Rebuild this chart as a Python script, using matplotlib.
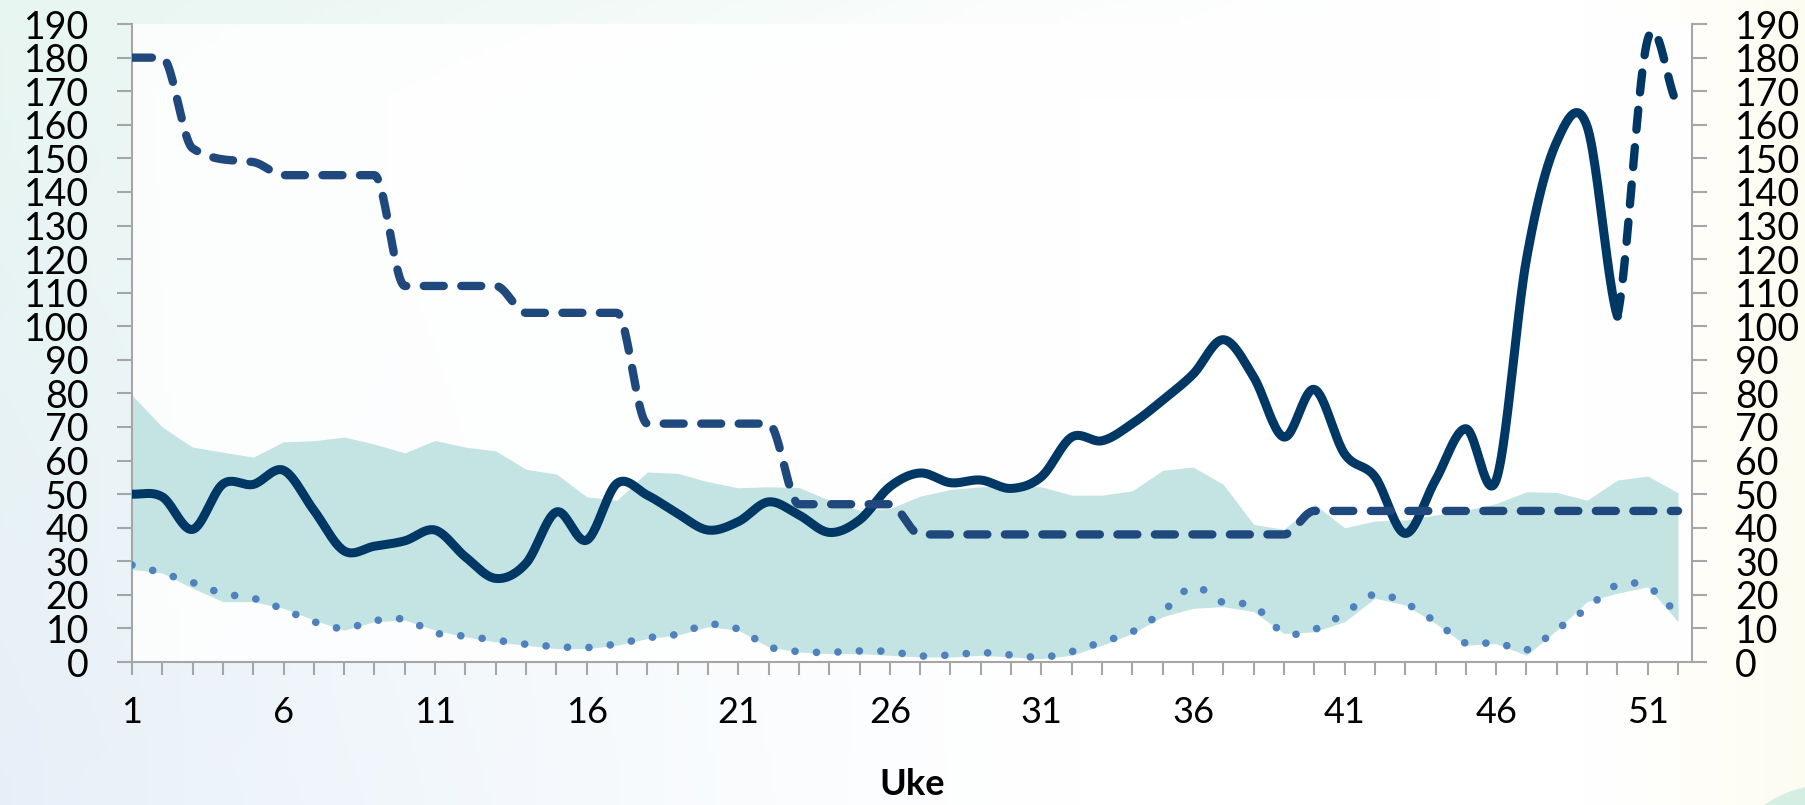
import numpy as np
import matplotlib
matplotlib.use("Agg")
import matplotlib.pyplot as plt
from matplotlib.patches import Ellipse

plt.rcParams['font.family'] = ['Lato', 'DejaVu Sans']

# Data (weeks 1..52)
weeks = list(range(1, 53))

band_max = [79.5, 70, 64, 62.5, 61, 65.6, 65.9, 67, 64.9, 62.3, 66, 64, 62.9,
            57.4, 56, 49.2, 48.2, 56.6, 56.2, 53.7, 51.9, 52.2, 52, 48.2, 45.2,
            45.7, 49.4, 51.4, 52.2, 52.5, 52.2, 49.7, 49.7, 51, 57.1, 58.1,
            52.9, 41, 39.5, 47, 40, 42, 42.3, 43.8, 45.2, 47.2, 50.7, 50.5,
            48.2, 54.2, 55.4, 50.4]
band_min = [27.6, 26.5, 22, 18, 18, 16, 12.5, 9.5, 12, 12.5, 9.5, 7.5, 6, 5,
            4, 4, 5, 7, 8, 10.5, 9.5, 4.5, 3, 2.5, 2.5, 2, 1.5, 1.5, 2, 1.5, 1,
            2, 5, 8.5, 13.5, 16, 16.5, 15, 8.5, 9, 12, 19, 17, 11.5, 5, 5.5, 2,
            9.5, 18, 20.5, 22.4, 12]
dotted = [28.9, 26.4, 23.7, 20.4, 19, 15.7, 12, 10, 12.3, 12.7, 8.7, 7.7, 6.5,
          5.3, 4.6, 4.3, 5.4, 7.2, 8.3, 11.2, 9.8, 4.6, 3.1, 2.9, 3.3, 3.1, 1.8,
          2.1, 2.8, 2.1, 1.4, 3.1, 6, 9, 15, 22.4, 17.7, 16.7, 8.7, 9.7, 14.5,
          20.2, 17.5, 12, 5.6, 5.8, 3.6, 9.7, 16, 23, 22.4, 15]
dashed = [180, 180, 153, 149.7, 148.9, 145, 145, 145, 145, 112, 112, 112, 112,
          104, 104, 104, 104, 71, 71, 71, 71, 71, 47, 47, 47, 47, 38, 38, 38,
          38, 38, 38, 38, 38, 38, 38, 38, 38, 38, 45, 45, 45, 45, 45, 45, 45,
          45, 45, 45, 45, 45, 45]
solid_weeks = list(range(1, 51))
solid = [50, 49.2, 39.5, 53, 52.9, 57.1, 45.2, 33.1, 34.5, 36.1, 39.3, 31.3,
         24.9, 29.4, 44.7, 36.3, 53.2, 49.7, 44.2, 39.3, 41.8, 47.7, 43.8, 38.6,
         42.3, 52.2, 56.3, 53.4, 54.2, 51.7, 55.2, 67, 65.9, 71, 78, 85.7, 96,
         84.9, 67, 81.2, 62, 55.2, 38.3, 54.2, 69.5, 54.2, 120, 155, 159.5, 103]
forecast_weeks = [50, 51, 52]
forecast = [103, 185.5, 166]

x_labels = [1, 6, 11, 16, 21, 26, 31, 36, 41, 46, 51]
y_ticks = list(range(0, 191, 10))


def smooth(x, y, n=24, monotone=False):
    # smoothed line through the points (cubic Bezier segments)
    x = np.asarray(x, float)
    y = np.asarray(y, float)
    k = len(x)
    d = np.diff(y) / np.diff(x)
    m = np.zeros(k)
    if monotone:
        for i in range(1, k - 1):
            if d[i - 1] * d[i] > 0:
                m[i] = 2 / (1 / d[i - 1] + 1 / d[i])
    else:
        m[1:-1] = (y[2:] - y[:-2]) / (x[2:] - x[:-2])
        m[0] = d[0] / 2
        m[-1] = d[-1] / 2
    t = np.linspace(0, 1, n)
    xs, ys = [], []
    for i in range(k - 1):
        h = x[i + 1] - x[i]
        p = [y[i], y[i] + m[i] * h / 3, y[i + 1] - m[i + 1] * h / 3, y[i + 1]]
        px = [x[i], x[i] + h / 3, x[i + 1] - h / 3, x[i + 1]]
        b = [(1 - t) ** 3, 3 * (1 - t) ** 2 * t, 3 * (1 - t) * t ** 2, t ** 3]
        sx = sum(bb * pp for bb, pp in zip(b, px))
        sy = sum(bb * pp for bb, pp in zip(b, p))
        if i > 0:
            sx, sy = sx[1:], sy[1:]
        xs.append(sx)
        ys.append(sy)
    return np.concatenate(xs), np.concatenate(ys)


fig = plt.figure(figsize=(18.05, 8.05), dpi=100)

# soft background gradient
bg = fig.add_axes([0, 0, 1, 1], zorder=-5)
H, W = 161, 361
yy, xx = np.mgrid[0:1:H * 1j, 0:1:W * 1j]
white = np.array([1.0, 1.0, 1.0])
mint = np.array([0.91, 0.965, 0.945])
blue = np.array([0.905, 0.94, 0.975])
cream = np.array([0.995, 0.99, 0.945])
left_col = mint[None, None, :] * (1 - yy[..., None]) + blue[None, None, :] * yy[..., None]
wl = np.clip(1 - xx / 0.6, 0, 1) ** 1.3
img = white * (1 - wl[..., None]) + left_col * wl[..., None]
wt = np.clip(1 - yy / 0.12, 0, 1) * np.clip(1 - xx / 0.8, 0, 1) * 0.6
img = img * (1 - wt[..., None]) + mint * wt[..., None]
wr = np.clip((xx - 0.88) / 0.12, 0, 1) ** 1.2
img = img * (1 - wr[..., None]) + cream * wr[..., None]
bg.imshow(img, aspect='auto', extent=[0, 1, 0, 1], origin='upper')
bg.add_patch(Ellipse((1.014, -0.118), 0.1274, 0.2857, color='#d4eee3', transform=bg.transAxes))
bg.set_xlim(0, 1)
bg.set_ylim(0, 1)
bg.axis('off')

ax = fig.add_axes([0.0731, 0.1776, 0.8643, 0.7925])
ax.patch.set_facecolor('white')
ax.patch.set_alpha(0.85)

ax.fill_between(weeks, band_min, band_max, color='#c4e4e3', linewidth=0, zorder=1)

dx, dy = smooth(weeks, dotted)
ax.plot(dx, dy, color='#4f81bd', linewidth=5.5, linestyle=(0, (0.01, 2.8)),
        dash_capstyle='round', zorder=3)

sx, sy = smooth(solid_weeks, solid)
ax.plot(sx, sy, color='#003865', linewidth=6.5, solid_capstyle='round',
        solid_joinstyle='round', zorder=4)

hx, hy = smooth(weeks, dashed, monotone=True)
ax.plot(hx, hy, color='#1f497d', linewidth=6, linestyle=(0, (2.4, 2.1)),
        dash_capstyle='round', zorder=5)

fx, fy = smooth(forecast_weeks, forecast)
ax.plot(fx, fy, color='#003865', linewidth=6, linestyle=(0, (2.4, 2.1)),
        dash_capstyle='round', zorder=5)

ax.set_xlim(1, 52.46)
ax.set_ylim(0, 190)

ax.set_yticks(y_ticks)
ax.set_xticks(x_labels)
ax.set_xticks(weeks, minor=True)

spine_col = '#a6a6a6'
for side in ['left', 'bottom', 'right']:
    ax.spines[side].set_color(spine_col)
    ax.spines[side].set_linewidth(1.5)
ax.spines['top'].set_visible(False)

ax.tick_params(axis='y', which='major', direction='out', length=11, width=1.5,
               color=spine_col, labelsize=27, pad=20, left=True, right=True,
               labelleft=True, labelright=True)
ax.tick_params(axis='x', which='both', direction='out', length=9.5, width=1.5,
               color=spine_col, labelsize=26, pad=15)

ax.set_xlabel('Uke', fontsize=26, fontweight='bold', labelpad=28)

fig.savefig('out.png', dpi=100)
